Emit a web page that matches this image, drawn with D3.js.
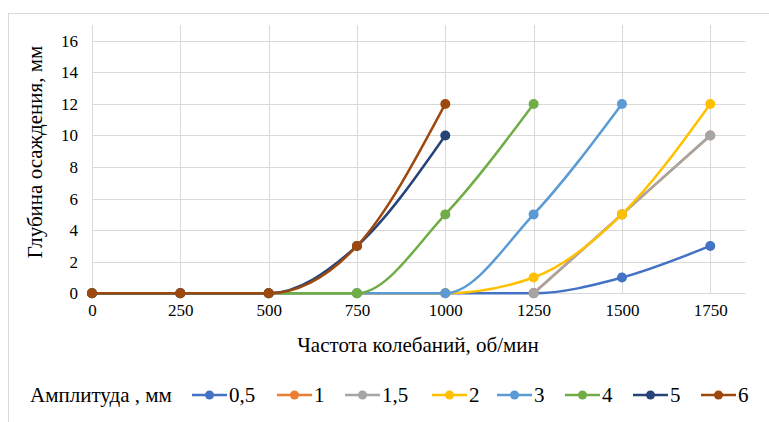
<!DOCTYPE html>
<html>
<head>
<meta charset="utf-8">
<script src="https://cdn.jsdelivr.net/npm/d3@7"></script>
<style>
  html, body { margin: 0; padding: 0; background: #fff; }
  svg { display: block; }
</style>
</head>
<body>
<svg id="chart" width="769" height="422"></svg>
<script>
// Frequency of vibration (rpm) and settling depth (mm) per vibration amplitude
const frequencies = [0, 250, 500, 750, 1000, 1250, 1500, 1750];
const amplitudes = ["0,5", "1", "1,5", "2", "3", "4", "5", "6"];
// each series: frequencies it was measured at, and the depth at each
const freq_05 = [0, 250, 500, 750, 1000, 1250, 1500, 1750];
const depth_05 = [0, 0, 0, 0, 0, 0, 1, 3];
const freq_1 = [1250, 1500, 1750];
const depth_1 = [0, 5, 10];
const freq_15 = [1250, 1500, 1750];
const depth_15 = [0, 5, 10];
const freq_2 = [0, 250, 500, 750, 1000, 1250, 1500, 1750];
const depth_2 = [0, 0, 0, 0, 0, 1, 5, 12];
const freq_3 = [0, 250, 500, 750, 1000, 1250, 1500];
const depth_3 = [0, 0, 0, 0, 0, 5, 12];
const freq_4 = [0, 250, 500, 750, 1000, 1250];
const depth_4 = [0, 0, 0, 0, 5, 12];
const freq_5 = [0, 250, 500, 750, 1000];
const depth_5 = [0, 0, 0, 3, 10];
const freq_6 = [0, 250, 500, 750, 1000];
const depth_6 = [0, 0, 0, 3, 12];
const seriesFreq = [freq_05, freq_1, freq_15, freq_2, freq_3, freq_4, freq_5, freq_6];
const seriesDepth = [depth_05, depth_1, depth_15, depth_2, depth_3, depth_4, depth_5, depth_6];
const colors = ["#4472C4", "#ED7D31", "#A5A5A5", "#FFC000", "#5B9BD5", "#70AD47", "#264478", "#9E480E"];
const xTicks = [0, 250, 500, 750, 1000, 1250, 1500, 1750];
const yTicks = [0, 2, 4, 6, 8, 10, 12, 14, 16];
const xTitle = "Частота колебаний, об/мин";
const yTitle = "Глубина осаждения, мм";
const legendTitle = "Амплитуда , мм";

const FONT = "'Liberation Serif', 'Times New Roman', Tinos, 'DejaVu Serif', serif";
const svg = d3.select("#chart");

// chart area frame
svg.append("rect")
  .attr("x", 8.5).attr("y", 13.5)
  .attr("width", 780).attr("height", 430)
  .attr("fill", "#fff").attr("stroke", "#d9d9d9").attr("stroke-width", 1);

const plot = { left: 92, right: 745.6, top: 25, bottom: 293.3 };
const x = d3.scaleLinear().domain([0, 1850]).range([plot.left, plot.right]);
const y = d3.scaleLinear().domain([0, 17]).range([plot.bottom, plot.top]);

// gridlines
const grid = svg.append("g").attr("stroke", "#d9d9d9").attr("stroke-width", 1);
grid.selectAll("line.h").data(yTicks).join("line")
  .attr("x1", plot.left).attr("x2", plot.right)
  .attr("y1", d => Math.round(y(d)) + 0.5).attr("y2", d => Math.round(y(d)) + 0.5);
grid.selectAll("line.v").data(xTicks).join("line")
  .attr("x1", d => Math.round(x(d)) + 0.5).attr("x2", d => Math.round(x(d)) + 0.5)
  .attr("y1", plot.top).attr("y2", plot.bottom);

// axes (labels only, lines come from the grid)
const xAxis = svg.append("g")
  .attr("transform", `translate(0,${plot.bottom})`)
  .call(d3.axisBottom(x).tickValues(xTicks).tickSize(0).tickPadding(11).tickFormat(d3.format("d")));
const yAxis = svg.append("g")
  .attr("transform", `translate(${plot.left},0)`)
  .call(d3.axisLeft(y).tickValues(yTicks).tickSize(0).tickPadding(14).tickFormat(d3.format("d")));
[xAxis, yAxis].forEach(a => {
  a.attr("font-family", FONT).attr("font-size", 17);
  a.select(".domain").remove();
  a.selectAll("text").attr("fill", "#000");
});

// smoothed series lines with markers
seriesDepth.forEach((vals, s) => {
  const fx = seriesFreq[s];
  const line = d3.line()
    .x((d, i) => x(fx[i]))
    .y(d => y(d))
    .curve(d3.curveMonotoneX);
  const g = svg.append("g");
  g.append("path")
    .attr("d", line(vals))
    .attr("fill", "none")
    .attr("stroke", colors[s])
    .attr("stroke-width", 2.5)
    .attr("stroke-linecap", "round");
  g.selectAll("circle").data(vals).join("circle")
    .attr("cx", (d, i) => x(fx[i]))
    .attr("cy", d => y(d))
    .attr("r", 5)
    .attr("fill", colors[s]);
});

// axis titles
svg.append("text")
  .attr("x", 418).attr("y", 352)
  .attr("text-anchor", "middle")
  .attr("font-family", FONT).attr("font-size", 21)
  .text(xTitle);
svg.append("text")
  .attr("transform", "translate(42,152) rotate(-90)")
  .attr("text-anchor", "middle")
  .attr("font-family", FONT).attr("font-size", 21)
  .text(yTitle);

// legend
const legendY = 395;
svg.append("text")
  .attr("x", 30).attr("y", legendY + 7)
  .attr("font-family", FONT).attr("font-size", 21)
  .text(legendTitle);
const legendX = [192, 277, 345, 432, 497, 565, 633, 701];
amplitudes.forEach((a, i) => {
  const g = svg.append("g").attr("transform", `translate(${legendX[i]},${legendY})`);
  g.append("line").attr("x1", 0).attr("x2", 35).attr("y1", 0).attr("y2", 0)
    .attr("stroke", colors[i]).attr("stroke-width", 2.5);
  g.append("circle").attr("cx", 17.5).attr("cy", 0).attr("r", 4.5).attr("fill", colors[i]);
  g.append("text").attr("x", 37).attr("y", 7)
    .attr("font-family", FONT).attr("font-size", 21)
    .text(a);
});
</script>
</body>
</html>
